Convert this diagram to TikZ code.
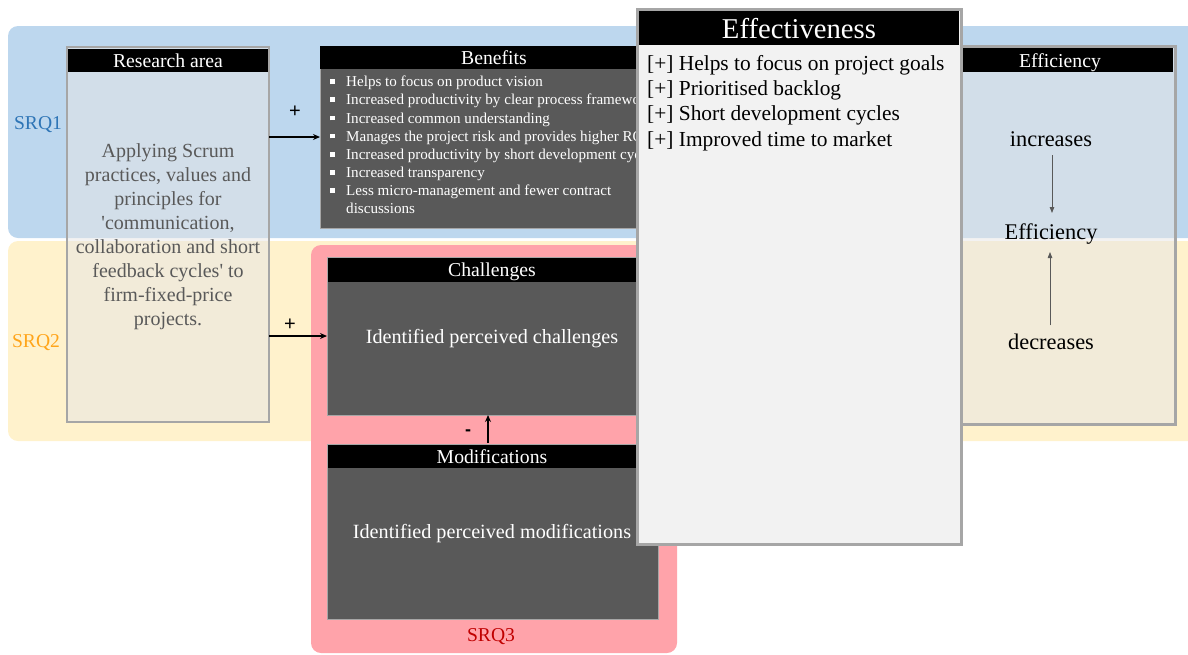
\documentclass[tikz,border=0pt]{standalone}
\usepackage{fontspec}
\setmainfont{Liberation Serif}
\newfontfamily\plainserif{Liberation Serif}
\newfontfamily\signfont{Liberation Sans}
\usetikzlibrary{arrows.meta}

\definecolor{bandblue}{HTML}{BDD7EE}
\definecolor{bandyellow}{HTML}{FFF2CC}
\definecolor{srqpink}{HTML}{FFA3AA}
\definecolor{frame}{HTML}{A6A6A6}
\definecolor{darkfill}{HTML}{595959}
\definecolor{paper}{HTML}{F2F2F2}
\definecolor{veil}{HTML}{E7E6E6}
\definecolor{srqone}{HTML}{2E75B6}
\definecolor{srqtwo}{HTML}{FFA51A}
\definecolor{srqthree}{HTML}{C00000}
\definecolor{bodygray}{HTML}{595959}

\newcommand{\fs}[2]{\fontsize{#1}{#2}\selectfont}
\newcommand{\bitem}[1]{\makebox[20pt][l]{\hspace{4pt}\raisebox{2.7pt}{\rule{4.8pt}{4.8pt}}}#1}
\newcommand{\plusitem}{{[+]}}
\newcommand{\sq}{{\plainserif'}}

\tikzset{
  band/.style={rounded corners=10pt, draw=none},
  header/.style={fill=black, draw=none},
  headtext/.style={text=white, inner sep=0pt, anchor=center, font=\fs{19.7}{22}},
  darkbox/.style={fill=darkfill, draw=frame, line width=1pt},
  veilbox/.style={fill=veil, fill opacity=0.5, draw=frame, draw opacity=1, line width=2.2pt},
  link/.style={-{Stealth[length=7pt,width=6pt]}, line width=1.6pt},
  thinlink/.style={-{Triangle[length=6pt,width=4.5pt]}, line width=0.8pt, draw=bodygray, fill=black},
  srqlabel/.style={inner sep=0pt, font=\fs{19.6}{22}},
  eftext/.style={inner sep=0pt, font=\fs{22.4}{24}},
}

\begin{document}
\begin{tikzpicture}[x=1pt,y=-1pt]
\useasboundingbox (0,0) rectangle (1188,654);

% coloured bands for the sub-research questions
\fill[bandblue, band] (8,26) rectangle (1210,238);
\fill[bandyellow, band] (8,241) rectangle (1210,441);
\node[srqlabel, text=srqone] (srq1) at (38,125) {SRQ1};
\node[srqlabel, text=srqtwo] (srq2) at (36,343) {SRQ2};

% SRQ3 region
\fill[srqpink, rounded corners=10pt] (311,245) rectangle (677,653);
\node[srqlabel, text=srqthree] (srq3) at (491,637) {SRQ3};

% research area
\path[veilbox] (67,47) rectangle (269,422);
\fill[header] (68,49) rectangle (268,72);
\node[headtext] (rahead) at (168,61) {Research area};
\node[text=bodygray, align=center, inner sep=0pt, font=\fs{20}{24}] (ra) at (168,237)
  {Applying Scrum\\practices, values and\\principles for\\\sq communication,\\collaboration and short\\feedback cycles\sq\ to\\firm-fixed-price\\projects.};
\coordinate (raout1) at (269,137);
\coordinate (raout2) at (269,336);

% benefits
\path[darkbox] (320,46) rectangle (700,228);
\fill[header] (320,46) rectangle (700,69);
\node[headtext] (benhead) at (494,58) {Benefits};
\node[anchor=north west, text=white, align=left, inner sep=0pt, font=\fs{15.1}{18.1}] (ben) at (326,76)
  {\bitem{Helps to focus on product vision}\\
   \bitem{Increased productivity by clear process framework}\\
   \bitem{Increased common understanding}\\
   \bitem{Manages the project risk and provides higher ROI}\\
   \bitem{Increased productivity by short development cycles}\\
   \bitem{Increased transparency}\\
   \bitem{Less micro-management and fewer contract}\\
   \hspace*{20pt}discussions};
\coordinate (benin) at (320,137);

% challenges and modifications
\path[darkbox] (327,257) rectangle (658,415);
\fill[header] (328,258) rectangle (657,282);
\node[headtext] (chhead) at (492,272) {Challenges};
\node[text=white, inner sep=0pt, font=\fs{20.2}{22}] (ch) at (492,339) {Identified perceived challenges};
\coordinate (chin) at (327,336);
\coordinate (chbot) at (488,415);

\path[darkbox] (327,444) rectangle (658,619);
\fill[header] (328,445) rectangle (657,468);
\node[headtext] (modhead) at (492,457) {Modifications};
\node[text=white, inner sep=0pt, font=\fs{20.2}{22}] (mod) at (492,534) {Identified perceived modifications};
\coordinate (modtop) at (488,443);

% connectors with their signs
\draw[link] (raout1) -- (benin);
\draw[link] (raout2) -- (chin);
\draw[link] (modtop) -- (chbot);
\node[inner sep=0pt, font=\signfont\fs{20}{22}] (plus1) at (295,112) {+};
\node[inner sep=0pt, font=\signfont\fs{20}{22}] (plus2) at (290,325) {+};
\node[inner sep=0pt, font=\signfont\bfseries\fs{18}{20}] (minus) at (468,433) {-};

% efficiency
\path[veilbox, line width=3pt] (960,46) rectangle (1175,424);
\fill[header] (961,48) rectangle (1173,72);
\node[headtext] (effhead) at (1060,63) {Efficiency};
\node[eftext] (inc) at (1051,139) {increases};
\node[eftext] (eff) at (1051,234) {Efficiency};
\node[eftext] (dec) at (1051,342) {decreases};
\coordinate (incfoot) at (1052,155);
\coordinate (efftop) at (1052,213);
\coordinate (decpeak) at (1050,325);
\coordinate (effbase) at (1050,252);
\draw[thinlink] (incfoot) -- (efftop);
\draw[thinlink] (decpeak) -- (effbase);

% effectiveness
\path[fill=paper, draw=frame, line width=3pt] (637,9) rectangle (961,544);
\fill[header] (639,11) rectangle (959,45);
\node[headtext, font=\fs{28.7}{30}] (efvhead) at (799,29) {Effectiveness};
\node[anchor=north west, align=left, inner sep=0pt, font=\fs{21.4}{25.3}] (efv) at (647,55)
  {\plusitem{} Helps to focus on project goals\\
   \plusitem{} Prioritised backlog\\
   \plusitem{} Short development cycles\\
   \plusitem{} Improved time to market};
\end{tikzpicture}
\end{document}
